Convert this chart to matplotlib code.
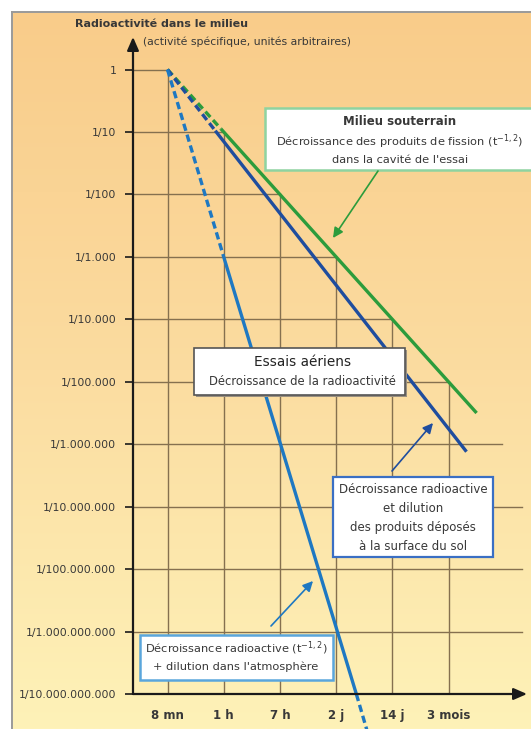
import numpy as np
import matplotlib.pyplot as plt
from matplotlib.patches import Rectangle
from matplotlib.colors import LinearSegmentedColormap

plt.rcParams['font.family'] = ['DejaVu Sans']

W, H = 531, 729

# Time scale (evenly spaced steps, roughly a factor 7 each)
time_labels = ["8 mn", "1 h", "7 h", "2 j", "14 j", "3 mois"]

# Activity scale: one decade per row
activity_exponents = [0, -1, -2, -3, -4, -5, -6, -7, -8, -9, -10]
activity_labels = ["1", "1/10", "1/100", "1/1.000", "1/10.000", "1/100.000",
                   "1/1.000.000", "1/10.000.000", "1/100.000.000",
                   "1/1.000.000.000", "1/10.000.000.000"]

# Decay curves: x = position on the time scale (0 = 8 mn, 1 = 1 h, ...),
# y = log10 of the relative activity
underground_x = [0, 0.95, 5.5]
underground_log = [0, -0.95, -5.5]
underground_dashed = [True, False]

deposit_x = [0, 0.85, 5.32]
deposit_log = [0, -0.98, -6.12]
deposit_dashed = [True, False]

atmosphere_x = [0, 1.0, 3.36, 3.62]
atmosphere_log = [0, -3.0, -10.0, -10.8]
atmosphere_dashed = [True, False, True]

GREEN = '#2c9c3c'
NAVY = '#1f4d9e'
LIGHTBLUE = '#1e78c2'
GRID = '#85704f'
TEXT = '#383838'

fig = plt.figure(figsize=(W / 100, H / 100), dpi=100)
fig.patch.set_facecolor('white')

# Background panel with vertical gradient
bg = fig.add_axes([12 / W, 0, 1 - 12 / W, 1 - 12 / H])
cmap = LinearSegmentedColormap.from_list('panel', ['#F9CC8A', '#FBDCA0', '#FEF2B8'])
bg.imshow(np.linspace(0, 1, 256).reshape(-1, 1), aspect='auto', cmap=cmap,
          extent=[0, 1, 0, 1], origin='upper')
bg.set_xlim(0, 1)
bg.set_ylim(0, 1)
bg.axis('off')
fig.add_artist(plt.Line2D([12 / W, 12 / W], [0, 1 - 12 / H], color='#9a9a9a', lw=1.4))
fig.add_artist(plt.Line2D([12 / W, 1], [1 - 12 / H, 1 - 12 / H], color='#9a9a9a', lw=1.4))

# Main chart axes
x0_px, x1_px, y0_px, y1_px = 133, 527, 694, 37
col0_px, col_step = 167.5, 56.2
dec0_px, dec_step = 69.5, 62.45
ax = fig.add_axes([x0_px / W, 1 - y0_px / H, (x1_px - x0_px) / W, (y0_px - y1_px) / H])
ax.set_facecolor('none')
ax.set_yscale('log')
ax.set_xlim((x0_px - col0_px) / col_step, (x1_px - col0_px) / col_step)
ax.set_ylim(1e-10, 10 ** ((dec0_px - y1_px) / dec_step))
for s in ax.spines.values():
    s.set_visible(False)

xmin = ax.get_xlim()[0]
ncols = len(time_labels)

# Staircase grid: lines only below the diagonal
for e in activity_exponents[:-1]:
    d = -e
    if d < ncols:
        xe = d
    elif d == ncols:
        xe = 5.95
    else:
        xe = 6.31
    ax.plot([xmin, xe], [10.0 ** e, 10.0 ** e], color=GRID, lw=1.0, zorder=1)
for c in range(ncols):
    ax.plot([c, c], [10.0 ** (-c), 1e-10], color=GRID, lw=1.0, zorder=1)


def draw_curve(xs, logs, dashed, color):
    for i in range(len(xs) - 1):
        ls = (0, (2.2, 1.2)) if dashed[i] else '-'
        ax.plot(xs[i:i + 2], [10.0 ** logs[i], 10.0 ** logs[i + 1]], color=color,
                lw=2.4, ls=ls, solid_capstyle='butt', zorder=3, clip_on=False)


draw_curve(underground_x, underground_log, underground_dashed, GREEN)
draw_curve(deposit_x, deposit_log, deposit_dashed, NAVY)
draw_curve(atmosphere_x, atmosphere_log, atmosphere_dashed, LIGHTBLUE)

# Axes with arrow heads
arrow_kw = dict(arrowstyle='-|>,head_length=0.8,head_width=0.35', color='#1a1a1a', lw=1.6,
                shrinkA=0, shrinkB=0, mutation_scale=10)
ax.annotate('', xy=(0, 1), xytext=(0, 0), xycoords='axes fraction', arrowprops=arrow_kw)
ax.annotate('', xy=(1, 0), xytext=(0, 0), xycoords='axes fraction', arrowprops=arrow_kw)

ax.set_yticks([10.0 ** e for e in activity_exponents])
ax.set_yticklabels(activity_labels)
ax.yaxis.set_minor_locator(plt.NullLocator())
ax.tick_params(axis='y', direction='out', length=6, width=1.2, color='#1a1a1a',
               pad=6, labelsize=7.8, labelcolor=TEXT)
ax.set_xticks(range(ncols))
ax.set_xticklabels(time_labels, fontweight='bold')
ax.tick_params(axis='x', length=0, pad=11, labelsize=8.5, labelcolor=TEXT)

# Overlay in pixel coordinates for titles, callout boxes and arrows
ov = fig.add_axes([0, 0, 1, 1])
ov.set_xlim(0, W)
ov.set_ylim(H, 0)
ov.axis('off')
ov.set_zorder(5)

ov.text(75, 24, "Radioactivité dans le milieu", fontsize=8, fontweight='bold',
        color=TEXT, ha='left', va='center')
ov.text(143, 42, "(activité spécifique, unités arbitraires)", fontsize=7.8,
        color=TEXT, ha='left', va='center')


def box(x0, y0, x1, y1, edge, lw=1.5, shadow=False):
    if shadow:
        ov.add_patch(Rectangle((x0 + 2, y0 + 2), x1 - x0, y1 - y0, facecolor='#9a9080',
                               edgecolor='none', zorder=4))
    ov.add_patch(Rectangle((x0, y0), x1 - x0, y1 - y0, facecolor='white',
                           edgecolor=edge, lw=lw, zorder=5))


# Underground test box
box(265, 108, 536, 170, '#8fd3a0', lw=1.8)
ov.text(400, 121, "Milieu souterrain", fontsize=8.5, fontweight='bold', color=TEXT,
        ha='center', va='center', zorder=6)
ov.text(400, 142, "Décroissance des produits de fission (t$^{-1,2}$)", fontsize=8.2,
        color=TEXT, ha='center', va='center', zorder=6)
ov.text(400, 160, "dans la cavité de l'essai", fontsize=8.2, color=TEXT,
        ha='center', va='center', zorder=6)
ov.annotate('', xy=(333, 238), xytext=(378, 171),
            arrowprops=dict(arrowstyle='-|>,head_length=0.6,head_width=0.3', color=GREEN,
                            lw=1.2, shrinkA=0, shrinkB=0, mutation_scale=10), zorder=6)

# Atmospheric tests box
box(194, 348, 405, 395, '#555555', lw=1.2, shadow=True)
ov.text(303, 362, "Essais aériens", fontsize=9.8, color='#222222',
        ha='center', va='center', zorder=6)
ov.text(302, 381, "Décroissance de la radioactivité", fontsize=8.4, color=TEXT,
        ha='center', va='center', zorder=6)

# Deposited products box
box(333, 477, 493, 557, '#3a6fc4', lw=1.6)
for yy, s in zip([489, 509, 528, 547],
                 ["Décroissance radioactive", "et dilution",
                  "des produits déposés", "à la surface du sol"]):
    ov.text(413, yy, s, fontsize=8.5, color=TEXT, ha='center', va='center', zorder=6)
ov.annotate('', xy=(433, 423), xytext=(392, 471),
            arrowprops=dict(arrowstyle='-|>,head_length=0.6,head_width=0.3', color=NAVY,
                            lw=1.2, shrinkA=0, shrinkB=0, mutation_scale=10), zorder=6)

# Atmospheric dilution box
box(140, 635, 333, 680, '#5aa6dc', lw=1.8)
ov.text(236, 648, "Décroissance radioactive (t$^{-1,2}$)", fontsize=8.2, color=TEXT,
        ha='center', va='center', zorder=6)
ov.text(236, 667, "+ dilution dans l'atmosphère", fontsize=8.2, color=TEXT,
        ha='center', va='center', zorder=6)
ov.annotate('', xy=(313, 581), xytext=(271, 626),
            arrowprops=dict(arrowstyle='-|>,head_length=0.6,head_width=0.3', color=LIGHTBLUE,
                            lw=1.2, shrinkA=0, shrinkB=0, mutation_scale=10), zorder=6)

fig.savefig('out.png', dpi=100, facecolor='white')
